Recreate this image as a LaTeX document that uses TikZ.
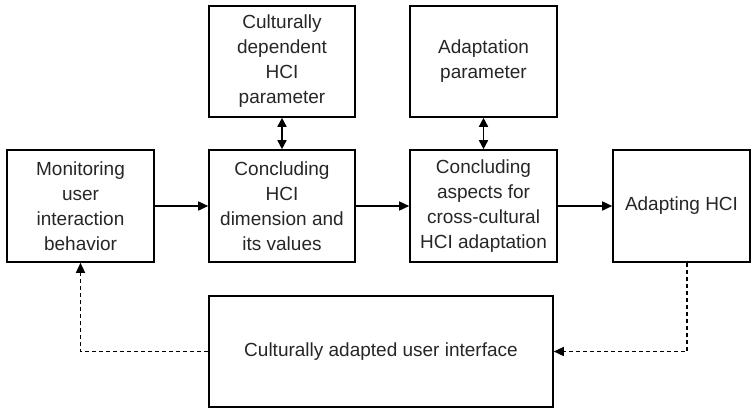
\documentclass[tikz,border=0pt]{standalone}
\usepackage{fontspec}
\setmainfont{Liberation Sans}
\usetikzlibrary{arrows.meta}
\begin{document}
\begin{tikzpicture}[x=1pt,y=-1pt,
  box/.style={draw,line width=1.6pt,inner sep=0pt,align=center,
    font=\fontsize{19}{25}\selectfont,text=black!85},
  flow/.style={line width=1.6pt,-{Triangle[length=10pt,width=9pt]}},
  both/.style={line width=1.6pt,{Triangle[length=9pt,width=9pt]}-{Triangle[length=9pt,width=9pt]}},
  back/.style={line width=1.4pt,dash pattern=on 4pt off 3pt,-{Triangle[length=10pt,width=9pt]}}]
\useasboundingbox (0,0) rectangle (752,408);
% main row
\node[box,minimum width=147pt,minimum height=112pt] (mon) at (80.5,206) {Monitoring\\user\\interaction\\behavior};
\node[box,minimum width=146pt,minimum height=112pt] (chd) at (282,206) {Concluding\\HCI\\dimension and\\its values};
\node[box,minimum width=147pt,minimum height=112pt] (cas) at (483.5,206) {Concluding\\aspects for\\cross-cultural\\HCI adaptation};
\node[box,minimum width=137pt,minimum height=112pt] (ahci) at (681.5,206) {Adapting HCI};
% parameter boxes
\node[box,minimum width=146pt,minimum height=111pt] (cdp) at (282,61.5) {Culturally\\dependent\\HCI\\parameter};
\node[box,minimum width=147pt,minimum height=111pt] (ap) at (483.5,61.5) {Adaptation\\parameter};
% resulting interface
\node[box,minimum width=344pt,minimum height=111pt] (cui) at (381,351.5) {Culturally adapted user interface};
% connectors
\draw[flow] (mon) -- (chd);
\draw[flow] (chd) -- (cas);
\draw[flow] (cas) -- (ahci);
\draw[both] (cdp) -- (chd);
\draw[both] (ap) -- (cas);
\draw[back] ([xshift=5.5pt]ahci.south) |- (cui.east);
\draw[back] (cui.west) -| (mon.south);
\end{tikzpicture}
\end{document}
